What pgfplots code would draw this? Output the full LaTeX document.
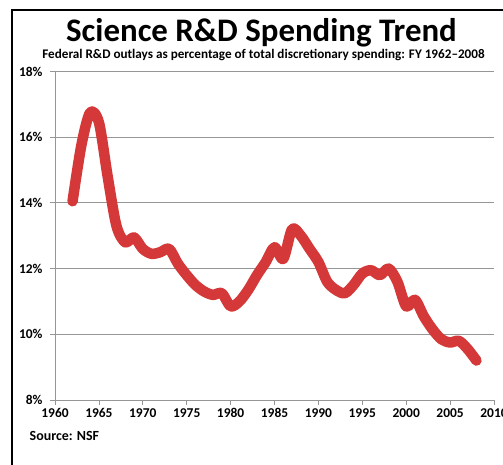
\documentclass[border=0pt]{standalone}
\usepackage{pgfplots}
\pgfplotsset{compat=1.18}
\usepackage{fontspec}
\setmainfont{Carlito}
\definecolor{rdred}{RGB}{212,56,56}
\definecolor{gridgray}{RGB}{150,150,150}
\pgfplotstableread{
year val
1962 14.05
1963 15.75
1964 16.75
1965 16.45
1966 14.8
1967 13.3
1968 12.8
1969 12.95
1970 12.6
1971 12.45
1972 12.5
1973 12.6
1974 12.15
1975 11.8
1976 11.5
1977 11.3
1978 11.2
1979 11.25
1980 10.85
1981 11.0
1982 11.35
1983 11.8
1984 12.2
1985 12.65
1986 12.3
1987 13.2
1988 13.0
1989 12.6
1990 12.2
1991 11.6
1992 11.35
1993 11.25
1994 11.5
1995 11.85
1996 11.95
1997 11.8
1998 12.0
1999 11.6
2000 10.85
2001 11.05
2002 10.55
2003 10.15
2004 9.85
2005 9.75
2006 9.8
2007 9.55
2008 9.2
}\rdtable
\begin{document}
\begin{tikzpicture}[x=1bp,y=1bp]
\path[use as bounding box] (0,0) rectangle (503,465);
\fill[white] (0,0) rectangle (503,465);
\draw[black,line width=2bp] (12,0) -- (12,455) -- (503,455);
\node[font=\bfseries\fontsize{33}{33}\selectfont,anchor=base,inner sep=0pt] at (261.5,423.5) {Science R\&D Spending Trend};
\node[font=\bfseries\fontsize{13.2}{13.2}\selectfont,anchor=base,inner sep=0pt] at (263.5,406.5) {Federal R\&D outlays as percentage of total discretionary spending: FY 1962--2008};
\node[font=\bfseries\fontsize{14}{14}\selectfont,anchor=west,inner sep=0pt] at (29.5,29) {Source: NSF};
\begin{axis}[
  scale only axis,
  width=439bp, height=328.5bp,
  at={(55bp,65bp)}, anchor=south west,
  xmin=1960, xmax=2010, ymin=8, ymax=18,
  axis x line=bottom, axis y line=left,
  axis line style={gridgray,-},
  xtick={1960,1965,...,2010},
  xticklabels={1960,1965,1970,1975,1980,1985,1990,1995,2000,2005,2010},
  ytick={8,10,12,14,16,18},
  yticklabels={8\%,10\%,12\%,14\%,16\%,18\%},
  ymajorgrids,
  grid style={gridgray,line width=0.8pt},
  tick style={gridgray,line width=0.8pt},
  tick align=outside,
  major tick length=5bp,
  ticklabel style={font=\bfseries\fontsize{13.5}{13.5}\selectfont},
  xticklabel style={yshift=0bp},
  yticklabel style={xshift=-4bp},
  clip=false,
]
\addplot[rdred, line width=10.5bp, line cap=round, line join=round, smooth, tension=0.5] table[x=year,y=val] {\rdtable};
\end{axis}
\end{tikzpicture}
\end{document}
